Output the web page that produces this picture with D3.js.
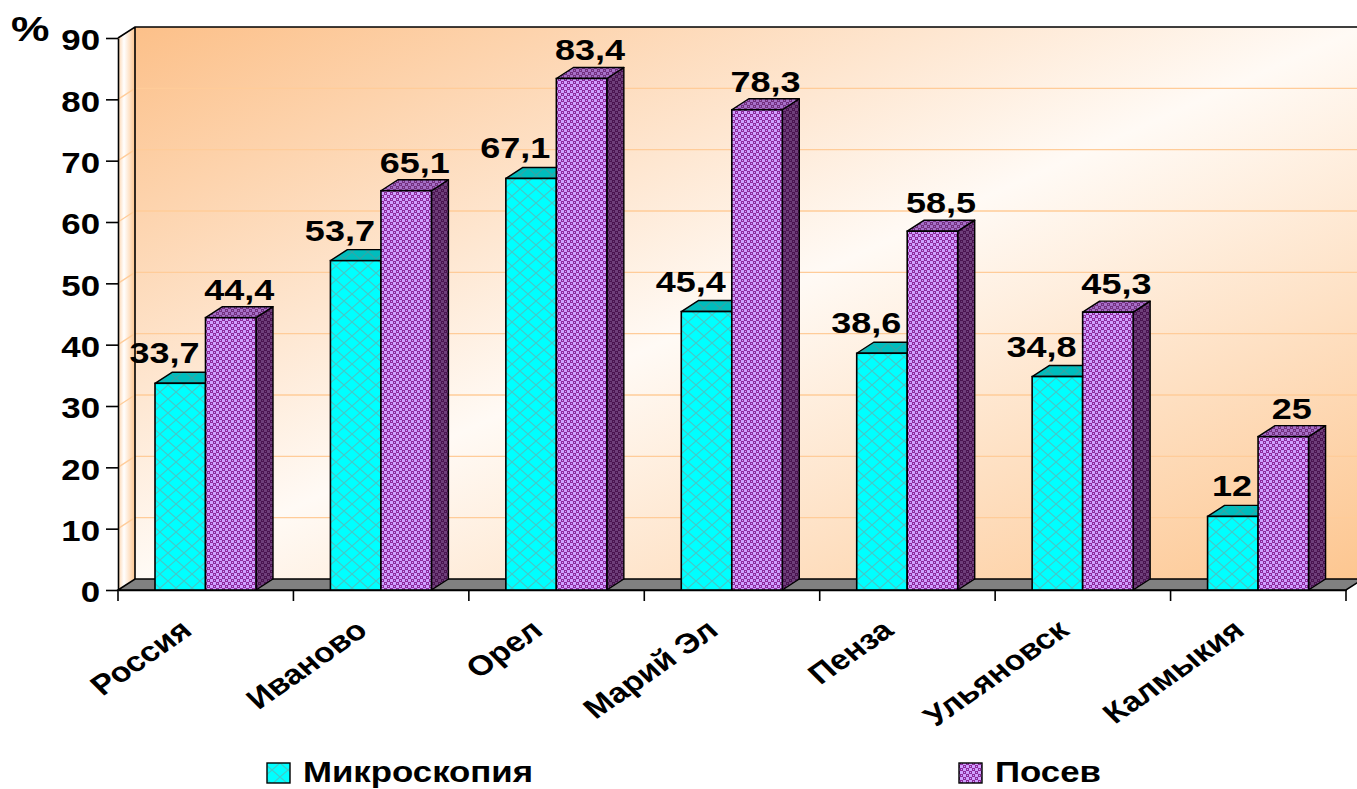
<!DOCTYPE html>
<html><head><meta charset="utf-8">
<script src="https://cdn.jsdelivr.net/npm/d3@7"></script>
<style>body{margin:0;background:#fff;overflow:hidden}</style></head>
<body><svg id="c" width="1357" height="789"></svg>
<script>
// ---- data ----
const categories = ["Россия","Иваново","Орел","Марий Эл","Пенза","Ульяновск","Калмыкия"];
const seriesNames = ["Микроскопия","Посев"];
const microscopy = [33.7,53.7,67.1,45.4,38.6,34.8,12];
const culture = [44.4,65.1,83.4,78.3,58.5,45.3,25];
const yTicks = [0,10,20,30,40,50,60,70,80,90];
const yUnit = "%";

// ---- geometry ----
const X0 = 118, X1 = 1346, Y0 = 590, YT = 38, DX = 17, DY = -11;
const SX = 1.2; // horizontal text stretch
const FONT = "'Liberation Sans', Arial, sans-serif";
const svg = d3.select("#c");
const x = d3.scaleBand().domain(categories).range([X0, X1]);
const xs = d3.scaleBand().domain(seriesNames).range([37, 138]);
const y = d3.scaleLinear().domain([0, 90]).range([Y0, YT]);
const fmt = v => String(v).replace(".", ",");

const defs = svg.append("defs");
// back wall gradient
const gw = defs.append("linearGradient").attr("id","gWall").attr("x1",0).attr("y1",0).attr("x2",1).attr("y2",1);
gw.append("stop").attr("offset",0).attr("stop-color","#FCC089");
gw.append("stop").attr("offset",0.5).attr("stop-color","#FFFAF5");
gw.append("stop").attr("offset",1).attr("stop-color","#FDC690");
const gs = defs.append("linearGradient").attr("id","gSide").attr("x1",0).attr("y1",0).attr("x2",1).attr("y2",0);
gs.append("stop").attr("offset",0).attr("stop-color","#FDD3AA");
gs.append("stop").attr("offset",0.35).attr("stop-color","#FFFFFF");
gs.append("stop").attr("offset",1).attr("stop-color","#FDC690");

// cyan lattice pattern
function lattice(id, base, line) {
  const p = defs.append("pattern").attr("id",id).attr("patternUnits","userSpaceOnUse").attr("width",16).attr("height",14);
  p.append("rect").attr("width",16).attr("height",14).attr("fill",base);
  p.append("path").attr("d","M0,0L16,14M16,0L0,14").attr("stroke",line).attr("stroke-width",1.1).attr("fill","none");
}
lattice("pCyan","#00FFFF","#44C8C8");
lattice("pCyanTop","#00BDBD","#33A6A6");
// purple checker pattern
function checker(id, light, dark) {
  const p = defs.append("pattern").attr("id",id).attr("patternUnits","userSpaceOnUse").attr("width",6).attr("height",6);
  p.append("rect").attr("width",6).attr("height",6).attr("fill",light);
  p.append("rect").attr("x",0).attr("y",0).attr("width",3).attr("height",3).attr("fill",dark);
  p.append("rect").attr("x",3).attr("y",3).attr("width",3).attr("height",3).attr("fill",dark);
  p.append("rect").attr("x",1).attr("y",1).attr("width",1).attr("height",1).attr("fill",light);
  p.append("rect").attr("x",4).attr("y",4).attr("width",1).attr("height",1).attr("fill",light);
}
checker("pPurple","#CFA0FF","#8E2A9C");
checker("pPurpleTop","#A670C8","#73307F");
checker("pPurpleSide","#6E3F7A","#4A1450");

const fills = {"Микроскопия": {front:"url(#pCyan)", top:"url(#pCyanTop)", side:"#009999"},
               "Посев": {front:"url(#pPurple)", top:"url(#pPurpleTop)", side:"url(#pPurpleSide)"}};

// ---- walls ----
const XR = X1 + DX;
svg.append("polygon").attr("points", [[X0,Y0],[X0,YT],[X0+DX,YT+DY],[X0+DX,Y0+DY]].join(" "))
  .attr("fill","url(#gSide)");
svg.append("rect").attr("x",X0+DX).attr("y",YT+DY).attr("width",XR-(X0+DX)).attr("height",Y0-YT)
  .attr("fill","url(#gWall)");
// gridlines
yTicks.filter(v => v > 0 && v < 90).forEach(v => {
  svg.append("line").attr("x1",X0+DX).attr("x2",XR).attr("y1",y(v)+DY).attr("y2",y(v)+DY)
    .attr("stroke","#FFCC99").attr("stroke-width",1.3);
  svg.append("line").attr("x1",X0).attr("x2",X0+DX).attr("y1",y(v)).attr("y2",y(v)+DY)
    .attr("stroke","#FFCC99").attr("stroke-width",1.3);
});
// wall borders
svg.append("path").attr("d",`M${X0},${YT}L${X0+DX},${YT+DY}L${XR},${YT+DY}M${X0+DX},${YT+DY}L${X0+DX},${Y0+DY}`)
  .attr("stroke","#000").attr("stroke-width",1.6).attr("fill","none");
// floor
svg.append("polygon").attr("points", [[X0,Y0],[X1,Y0],[XR,Y0+DY],[X0+DX,Y0+DY]].join(" "))
  .attr("fill","#808080").attr("stroke","#000").attr("stroke-width",1.6);

// ---- axes ----
const yAxis = svg.append("g").attr("transform",`translate(${X0},0)`)
  .call(d3.axisLeft(y).tickValues(yTicks).tickSize(12).tickSizeOuter(0));
yAxis.select(".domain").attr("stroke","#000").attr("stroke-width",1.6);
yAxis.selectAll(".tick line").attr("stroke","#000").attr("stroke-width",1.6);
yAxis.selectAll(".tick text").attr("x",0).attr("dy","0.41em")
  .attr("transform",`translate(-18,0) scale(${SX},1)`)
  .attr("text-anchor","end").attr("fill","#000")
  .style("font-family",FONT).style("font-size","29px").style("font-weight","bold");

const xAxis = svg.append("g").attr("transform",`translate(0,${Y0})`)
  .call(d3.axisBottom(x).tickSize(0).tickFormat(""));
xAxis.select(".domain").attr("stroke","#000").attr("stroke-width",1.6);
const bounds = categories.map(c => x(c)).concat([x(categories[categories.length-1]) + x.bandwidth()]);
svg.selectAll(".xt").data(bounds).enter().append("line")
  .attr("x1",d=>d).attr("x2",d=>d).attr("y1",Y0).attr("y2",Y0+11)
  .attr("stroke","#000").attr("stroke-width",1.6);
svg.selectAll(".xl").data(categories).enter().append("text")
  .attr("text-anchor","end")
  .attr("transform", d => `translate(${x(d)+x.bandwidth()/2-12},${Y0+43}) scale(${SX},1) rotate(-40)`)
  .style("font-family",FONT).style("font-size","28px").style("font-weight","bold")
  .text(d => d);

svg.append("text").attr("transform",`translate(11,41) scale(${SX},1)`)
  .style("font-family",FONT).style("font-size","36px").style("font-weight","bold").text(yUnit);

// ---- bars ----
const seriesVals = {"Микроскопия": microscopy, "Посев": culture};
categories.forEach((c, i) => {
  seriesNames.forEach(s => {
    const v = seriesVals[s][i];
    const bx = x(c) + xs(s), w = xs.bandwidth(), ty = y(v);
    const f = fills[s];
    const g = svg.append("g");
    g.append("polygon").attr("points",[[bx+w,ty],[bx+w+DX,ty+DY],[bx+w+DX,Y0+DY],[bx+w,Y0]].join(" "))
      .attr("fill",f.side).attr("stroke","#000").attr("stroke-width",1.4).attr("stroke-linejoin","round");
    g.append("polygon").attr("points",[[bx,ty],[bx+DX,ty+DY],[bx+w+DX,ty+DY],[bx+w,ty]].join(" "))
      .attr("fill",f.top).attr("stroke","#000").attr("stroke-width",1.4).attr("stroke-linejoin","round");
    g.append("rect").attr("x",bx).attr("y",ty).attr("width",w).attr("height",Y0-ty)
      .attr("fill",f.front).attr("stroke","#000").attr("stroke-width",1.6);
  });
});

// ---- data labels ----
categories.forEach((c, i) => {
  const sm = seriesNames[0], sc = seriesNames[1];
  const w = xs.bandwidth();
  const vm = microscopy[i], vc = culture[i];
  svg.append("text").attr("text-anchor","end")
    .attr("transform",`translate(${x(c)+xs(sm)+w-6},${y(vm)+DY-9}) scale(${SX},1)`)
    .style("font-family",FONT).style("font-size","30px").style("font-weight","bold").text(fmt(vm));
  svg.append("text").attr("text-anchor","middle")
    .attr("transform",`translate(${x(c)+xs(sc)+w/2+DX/2},${y(vc)+DY-7}) scale(${SX},1)`)
    .style("font-family",FONT).style("font-size","30px").style("font-weight","bold").text(fmt(vc));
});

// ---- legend ----
const legendX = {"Микроскопия": 267, "Посев": 959};
const legendFill = {"Микроскопия": "url(#pCyan)", "Посев": "url(#pPurple)"};
seriesNames.forEach(s => {
  svg.append("rect").attr("x",legendX[s]).attr("y",763).attr("width",23).attr("height",20)
    .attr("fill",legendFill[s]).attr("stroke","#000").attr("stroke-width",1.4);
  svg.append("text").attr("transform",`translate(${legendX[s]+36},782) scale(${SX},1)`)
    .style("font-family",FONT).style("font-size","29px").style("font-weight","bold").text(s);
});
</script>
</body></html>
